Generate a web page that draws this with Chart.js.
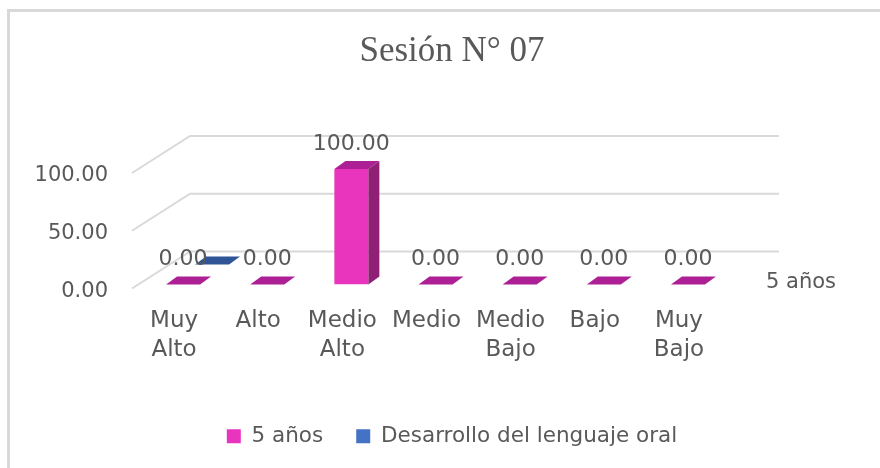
<!DOCTYPE html>
<html>
<head>
<meta charset="utf-8">
<script src="https://cdn.jsdelivr.net/npm/chart.js@4"></script>
<style>
  html, body { margin: 0; padding: 0; background: #fff; overflow: hidden; }
  #frame { position: absolute; left: 7px; top: 9px; width: 880px; height: 470px; border-left: 3px solid #d9d9d9; border-top: 3px solid #d9d9d9; }
  #chart { position: absolute; left: 24px; top: 0; }
</style>
</head>
<body>
<div id="frame"></div>
<canvas id="chart" width="856" height="468"></canvas>
<script>
const categories = [["Muy", "Alto"], "Alto", ["Medio", "Alto"], "Medio", ["Medio", "Bajo"], "Bajo", ["Muy", "Bajo"]];
const cincoAnos = [0, 0, 100, 0, 0, 0, 0];
const desarrollo = [0, null, null, null, null, null, null];

const textColor = "#595959";
const gridColor = "#d9d9d9";

// fake 3D look: how far each row sits back from the front of the floor
const wallDepth = { x: 58, y: 37 };
const rows = [
    { dx: 9, dy: 4, top: "#ad2095", side: "#8f2076" },
    { dx: 38, dy: 24, top: "#2f5597", side: "#2f5597" }
];
const faceDepth = { x: 11, y: 8 };

const depth3d = {
    id: "depth3d",
    beforeDatasetsDraw(chart) {
        const { ctx, chartArea, scales } = chart;
        ctx.save();
        ctx.strokeStyle = gridColor;
        ctx.lineWidth = 2;
        scales.y.ticks.forEach(t => {
            const y = scales.y.getPixelForValue(t.value);
            ctx.beginPath();
            ctx.moveTo(chartArea.left, y);
            ctx.lineTo(chartArea.left + wallDepth.x, y - wallDepth.y);
            ctx.lineTo(chartArea.right + wallDepth.x, y - wallDepth.y);
            ctx.stroke();
        });
        ctx.restore();
    },
    beforeDatasetDraw(chart, args) {
        const row = rows[args.index];
        chart.ctx.save();
        chart.ctx.translate(row.dx, -row.dy);
    },
    afterDatasetDraw(chart, args) {
        const { ctx } = chart;
        const row = rows[args.index];
        const values = chart.data.datasets[args.index].data;
        args.meta.data.forEach((bar, i) => {
            if (values[i] === null) return;
            const left = bar.x - bar.width / 2;
            const right = bar.x + bar.width / 2;
            ctx.fillStyle = row.side;
            ctx.beginPath();
            ctx.moveTo(right, bar.y);
            ctx.lineTo(right + faceDepth.x, bar.y - faceDepth.y);
            ctx.lineTo(right + faceDepth.x, bar.base - faceDepth.y);
            ctx.lineTo(right, bar.base);
            ctx.closePath();
            ctx.fill();
            ctx.fillStyle = row.top;
            ctx.beginPath();
            ctx.moveTo(left, bar.y);
            ctx.lineTo(left + faceDepth.x, bar.y - faceDepth.y);
            ctx.lineTo(right + faceDepth.x, bar.y - faceDepth.y);
            ctx.lineTo(right, bar.y);
            ctx.closePath();
            ctx.fill();
        });
        ctx.restore();
    },
    afterDatasetsDraw(chart) {
        const { ctx, scales, chartArea } = chart;
        ctx.save();
        ctx.font = "22px 'DejaVu Sans'";
        ctx.fillStyle = textColor;
        ctx.textAlign = "center";
        ctx.textBaseline = "middle";
        chart.getDatasetMeta(0).data.forEach((bar, i) => {
            ctx.fillText(cincoAnos[i].toFixed(2), bar.x + rows[0].dx, bar.y - rows[0].dy - 25);
        });
        // series name on the depth axis
        ctx.font = "21px 'DejaVu Sans'";
        ctx.textAlign = "left";
        ctx.fillText("5 años", chartArea.right + 45, scales.y.getPixelForValue(0) - 6);
        ctx.restore();
    }
};

new Chart(document.getElementById("chart"), {
    type: "bar",
    data: {
        labels: categories,
        datasets: [
            { label: "5 años", data: cincoAnos, backgroundColor: "#e935be" },
            { label: "Desarrollo del lenguaje oral", data: desarrollo, backgroundColor: "#4472c4" }
        ]
    },
    options: {
        responsive: false,
        animation: false,
        layout: { padding: { top: 0, right: 0, bottom: 11, left: 0 } },
        datasets: { bar: { grouped: false, barPercentage: 0.404, categoryPercentage: 1 } },
        scales: {
            x: {
                grid: { display: false, drawTicks: false },
                border: { display: false },
                ticks: { color: textColor, font: { family: "DejaVu Sans", size: 23, lineHeight: 1.26 }, padding: 18, maxRotation: 0, autoSkip: false },
                afterFit: s => { s.height = 104; }
            },
            y: {
                min: 0,
                max: 100,
                grid: { display: false, drawTicks: false },
                border: { display: false },
                // empty first line nudges the label down to sit like the original
                ticks: { color: textColor, font: { family: "DejaVu Sans", size: 21, lineHeight: "6px" }, padding: 24, stepSize: 50, callback: v => ["", v.toFixed(2)] },
                afterFit: s => { s.width = 108; }
            },
            // empty axis that keeps the room on the right for the depth of the floor
            side: {
                position: "right",
                grid: { display: false, drawTicks: false },
                border: { display: false },
                ticks: { display: false },
                afterFit: s => { s.width = 159; }
            }
        },
        plugins: {
            title: {
                display: true,
                text: "Sesión N° 07",
                color: textColor,
                font: { family: "Liberation Serif", size: 35, weight: "normal" },
                padding: { top: 31, bottom: 100 }
            },
            legend: {
                position: "bottom",
                labels: { color: textColor, font: { family: "DejaVu Sans", size: 21.5 }, boxWidth: 14, boxHeight: 14, padding: 33 }
            },
            tooltip: { enabled: false }
        }
    },
    plugins: [depth3d]
});
</script>
</body>
</html>
